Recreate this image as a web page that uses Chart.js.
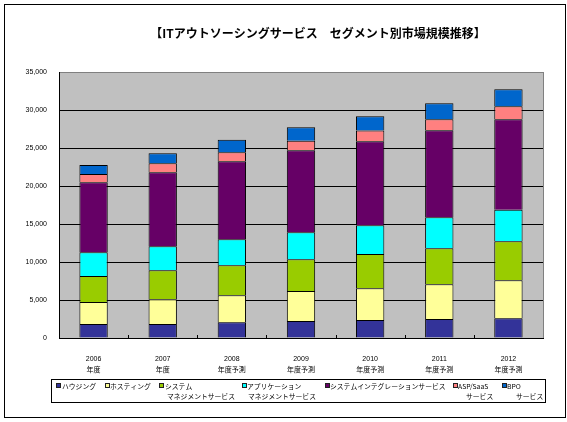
<!DOCTYPE html>
<html lang="ja">
<head>
<meta charset="utf-8">
<title>ITアウトソーシングサービス セグメント別市場規模推移</title>
<script src="https://cdn.jsdelivr.net/npm/chart.js@4.4.1/dist/chart.umd.min.js"></script>
<style>
  html, body { margin: 0; padding: 0; background: #fff; }
  #wrap { position: relative; width: 567px; height: 422px; }
</style>
</head>
<body>
<div id="wrap"><canvas id="myChart" width="567" height="422"></canvas></div>
<script>
// 年度ラベル (2行表示)
const years = [
    ['2006', '年度'], ['2007', '年度'], ['2008', '年度予測'], ['2009', '年度予測'],
    ['2010', '年度予測'], ['2011', '年度予測'], ['2012', '年度予測']
];

// セグメント別の市場規模 (画像から読み取った概算値)
const housing     = [1850, 1850, 2070, 2240, 2370, 2500, 2590];
const hosting     = [2890, 3240, 3550, 3950, 4170, 4570, 5000];
const systemMgmt  = [3420, 3820, 3950, 4170, 4510, 4740, 5130];
const appMgmt     = [3110, 3160, 3420, 3550, 3780, 4080, 4160];
const integration = [9210, 9740, 10270, 10790, 11060, 11450, 11900];
const aspSaas     = [1100, 1190, 1190, 1270, 1400, 1450, 1710];
const bpo         = [1180, 1310, 1620, 1760, 1890, 2110, 2240];

// 凡例の表示名 (改行ごと)
const seriesNames = [
    ['ハウジング'],
    ['ホスティング'],
    ['システム', 'マネジメントサービス'],
    ['アプリケーション', 'マネジメントサービス'],
    ['システムインテグレーションサービス'],
    ['ASP/SaaS', 'サービス'],
    ['BPO', 'サービス']
];
const seriesColors = ['#333399', '#FFFF99', '#99CC00', '#00FFFF', '#660066', '#FF8080', '#0066CC'];

// Y軸の目盛り
const yTicks = [0, 5000, 10000, 15000, 20000, 25000, 30000, 35000];

const titleText = '【ITアウトソーシングサービス　セグメント別市場規模推移】';

const seriesValues = [housing, hosting, systemMgmt, appMgmt, integration, aspSaas, bpo];

// 凡例の配置 (マーカー位置, 1行目のx, 2行目のx)
const legendLayout = [
    { marker: 56, text: 62, text2: 62 },
    { marker: 105, text: 110, text2: 110 },
    { marker: 159, text: 165, text2: 167 },
    { marker: 242, text: 247, text2: 248 },
    { marker: 325, text: 330, text2: 330 },
    { marker: 453, text: 458, text2: 466 },
    { marker: 502, text: 507, text2: 516 }
];

const cjkFont = '"Noto Sans CJK JP", sans-serif';

// 背景・枠・タイトル・凡例を描く
const framePlugin = {
    id: 'frame',
    beforeDraw(chart) {
        const { ctx, chartArea: a } = chart;
        ctx.save();
        ctx.fillStyle = '#fff';
        ctx.fillRect(0, 0, chart.width, chart.height);
        ctx.fillStyle = '#C0C0C0';
        ctx.fillRect(a.left, a.top, a.right - a.left, a.bottom - a.top);
        ctx.strokeStyle = '#808080';
        ctx.lineWidth = 1;
        ctx.strokeRect(Math.round(a.left) + 0.5, Math.round(a.top) + 0.5,
            Math.round(a.right - a.left), Math.round(a.bottom - a.top));
        ctx.restore();
    },
    afterDatasetsDraw(chart) {
        // X軸の内向き目盛り (項目の境目)
        const { ctx, chartArea: a } = chart;
        const xScale = chart.scales.x;
        ctx.save();
        ctx.strokeStyle = '#000';
        ctx.lineWidth = 1;
        for (let i = 1; i < years.length; i++) {
            const px = Math.round((xScale.getPixelForValue(i - 1) + xScale.getPixelForValue(i)) / 2) + 0.5;
            ctx.beginPath();
            ctx.moveTo(px, a.bottom - 3);
            ctx.lineTo(px, a.bottom);
            ctx.stroke();
        }
        ctx.restore();
    },
    afterDraw(chart) {
        const ctx = chart.ctx;
        ctx.save();
        // 外枠
        ctx.strokeStyle = '#000';
        ctx.lineWidth = 1;
        ctx.strokeRect(4.5, 4.5, 561, 413);

        // タイトル
        ctx.fillStyle = '#000';
        ctx.font = 'bold 12px ' + cjkFont;
        ctx.textAlign = 'center';
        ctx.textBaseline = 'middle';
        ctx.fillText(titleText, 318, 33);

        // 凡例
        ctx.strokeRect(51.5, 379.5, 494, 23);
        ctx.font = '6.8px ' + cjkFont;
        ctx.textAlign = 'left';
        chart.data.datasets.forEach((ds, i) => {
            const pos = legendLayout[i];
            ctx.fillStyle = ds.backgroundColor;
            ctx.fillRect(pos.marker, 383, 5, 5);
            ctx.strokeStyle = '#222';
            ctx.strokeRect(pos.marker + 0.5, 383.5, 4, 4);
            ctx.fillStyle = '#000';
            const lines = seriesNames[i];
            ctx.fillText(lines[0], pos.text, 386);
            if (lines.length > 1) {
                ctx.fillText(lines[1], pos.text2, 396);
            }
        });
        ctx.restore();
    }
};

const ctx = document.getElementById('myChart').getContext('2d');

new Chart(ctx, {
    type: 'bar',
    data: {
        labels: years,
        datasets: seriesValues.map((values, i) => ({
            label: seriesNames[i].join(''),
            data: values,
            backgroundColor: seriesColors[i],
            borderColor: '#000',
            borderWidth: { top: 1, left: 1, right: 1, bottom: 0 },
            borderSkipped: false,
            barPercentage: 0.41,
            categoryPercentage: 1
        }))
    },
    options: {
        responsive: false,
        devicePixelRatio: 1,
        animation: false,
        layout: {
            padding: { top: 72, right: 24, bottom: 0, left: 0 }
        },
        scales: {
            x: {
                stacked: true,
                grid: { display: false },
                border: { display: true, color: '#000', width: 1 },
                ticks: {
                    color: '#000',
                    padding: 8,
                    maxRotation: 0,
                    autoSkip: false,
                    font: { family: '"Liberation Sans", ' + cjkFont, size: 7, lineHeight: 1.5 }
                },
                afterFit(scale) {
                    scale.height = 84;
                }
            },
            y: {
                stacked: true,
                min: 0,
                max: 35000,
                grid: {
                    drawTicks: false,
                    color: ctx => ctx.tick && ctx.tick.value === 35000 ? '#808080' : '#000',
                    lineWidth: 1
                },
                border: { display: true, color: '#000', width: 1 },
                afterBuildTicks(scale) {
                    scale.ticks = yTicks.map(v => ({ value: v }));
                },
                ticks: {
                    color: '#000',
                    padding: 12,
                    font: { family: '"Liberation Sans", sans-serif', size: 7 },
                    callback: function(value) {
                        return value.toLocaleString('en-US');
                    }
                },
                afterFit(scale) {
                    scale.width = 59;
                }
            }
        },
        plugins: {
            legend: { display: false },
            title: { display: false },
            tooltip: { enabled: false }
        }
    },
    plugins: [framePlugin]
});
</script>
</body>
</html>
